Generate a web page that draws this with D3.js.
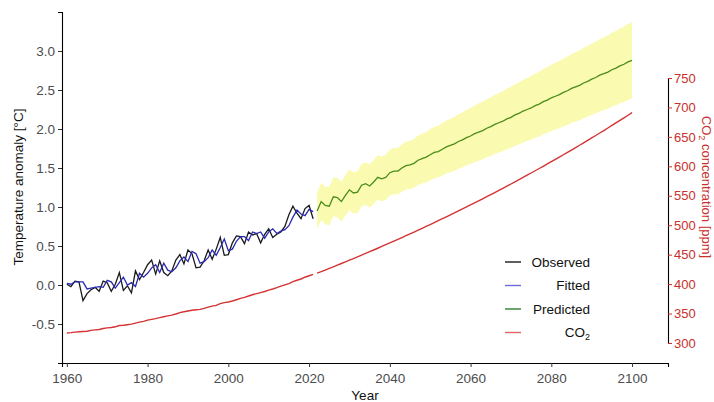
<!DOCTYPE html>
<html>
<head>
<meta charset="utf-8">
<title>Temperature anomaly and CO2</title>
<script src="https://d3js.org/d3.v7.min.js"></script>
<style>
  body { margin: 0; background: #fff; }
  svg { font-family: "Liberation Sans", Arial, sans-serif; }
  .tick text { font-size: 13.5px; }
</style>
</head>
<body>
<div id="chart"></div>
<script>
// observed years 1960-2021
const obsYears = d3.range(1960, 2022);
const observed = [0.01,-0.02,0.05,0.04,-0.20,-0.11,-0.06,-0.03,-0.08,0.05,
  0.03,-0.08,0.01,0.16,-0.07,-0.01,-0.10,0.18,0.07,0.16,
  0.26,0.32,0.14,0.31,0.16,0.12,0.18,0.32,0.39,0.27,
  0.45,0.40,0.22,0.23,0.31,0.45,0.33,0.46,0.61,0.38,
  0.39,0.54,0.63,0.62,0.53,0.68,0.64,0.66,0.54,0.65,
  0.72,0.61,0.65,0.68,0.75,0.90,1.01,0.92,0.85,0.98,
  1.02,0.85];
const fitted = [0.02,0.01,0.04,0.04,0.04,-0.05,-0.04,-0.03,-0.02,-0.03,
  0.06,0.04,-0.04,0.03,0.10,0.00,0.03,-0.02,0.15,0.10,
  0.15,0.22,0.26,0.16,0.28,0.19,0.17,0.22,0.31,0.36,
  0.30,0.43,0.40,0.28,0.30,0.35,0.45,0.38,0.48,0.59,
  0.44,0.46,0.56,0.62,0.62,0.57,0.68,0.66,0.68,0.60,
  0.68,0.72,0.66,0.69,0.71,0.76,0.87,0.96,0.91,0.89,
  0.97,0.94];
const co2Observed = [316.9,317.6,318.5,319.0,319.6,320.0,321.4,322.2,323.0,324.6,
  325.7,326.3,327.5,329.7,330.2,331.1,332.0,333.8,335.4,336.8,
  338.8,340.1,341.4,343.0,344.6,346.0,347.4,349.2,351.6,353.1,
  354.4,355.6,356.5,357.1,358.9,360.9,362.7,363.8,366.8,368.5,
  369.7,371.3,373.5,375.8,377.5,379.8,381.9,383.8,385.6,387.4,
  389.9,391.7,393.9,396.5,398.6,400.8,404.2,406.5,408.7,411.7,
  414.2,416.4];

// projection years 2022-2100
const predYears = d3.range(2022, 2101);
const predicted = [0.95,1.07,1.02,1.01,1.13,1.12,1.07,1.15,
  1.22,1.18,1.19,1.28,1.30,1.27,1.32,1.38,1.36,1.38,
  1.44,1.46,1.46,1.50,1.53,1.54,1.56,1.60,1.62,1.64,
  1.67,1.70,1.71,1.74,1.77,1.79,1.81,1.84,1.86,1.89,
  1.91,1.94,1.96,1.98,2.01,2.03,2.06,2.08,2.10,2.13,
  2.15,2.18,2.20,2.23,2.25,2.27,2.30,2.32,2.35,2.37,
  2.40,2.42,2.44,2.47,2.49,2.52,2.54,2.56,2.59,2.61,
  2.64,2.66,2.69,2.71,2.73,2.76,2.78,2.81,2.83,2.86,
  2.88];
const bandHalf = [0.235,0.238,0.242,0.245,0.248,0.251,0.255,0.258,
  0.261,0.264,0.268,0.271,0.274,0.277,0.281,0.284,0.287,0.291,
  0.294,0.297,0.300,0.304,0.307,0.310,0.313,0.317,0.320,0.323,
  0.327,0.330,0.333,0.336,0.340,0.343,0.346,0.349,0.353,0.356,
  0.359,0.362,0.366,0.369,0.372,0.375,0.379,0.382,0.385,0.389,
  0.392,0.395,0.398,0.402,0.405,0.408,0.411,0.415,0.418,0.421,
  0.425,0.428,0.431,0.434,0.438,0.441,0.444,0.447,0.451,0.454,
  0.457,0.460,0.464,0.467,0.470,0.473,0.477,0.480,0.483,0.487,
  0.490];
const co2Projected = [418.5,421.2,423.9,426.6,429.4,432.2,435.0,437.8,
  440.6,443.4,446.3,449.2,452.1,455.0,457.9,460.9,463.9,466.9,
  469.9,472.9,476.0,479.1,482.2,485.3,488.4,491.6,494.8,498.0,
  501.2,504.4,507.7,511.0,514.3,517.6,520.9,524.3,527.7,531.1,
  534.5,537.9,541.4,544.9,548.4,551.9,555.5,559.1,562.7,566.3,
  570.0,573.7,577.4,581.1,584.9,588.7,592.5,596.3,600.1,604.0,
  607.9,611.8,615.7,619.7,623.7,627.7,631.7,635.8,639.9,644.0,
  648.2,652.4,656.6,660.8,665.1,669.4,673.7,678.0,682.4,686.8,
  691.2];

const xTicks = [1960,1980,2000,2020,2040,2060,2080,2100];
const tempTicks = [-0.5,0,0.5,1.0,1.5,2.0,2.5,3.0];
const co2Ticks = [300,350,400,450,500,550,600,650,700,750];
const legendItems = [
  {label: "Observed", color: "#1a1a1a"},
  {label: "Fitted", color: "#6c6cdc"},
  {label: "Predicted", color: "#2e7d32"},
  {label: "CO2", color: "#e06666"}
];

const width = 714, height = 402;
const colObs = "#1a1a1a", colFit = "#2a2ab0", colPred = "#4a8c1c", colCO2 = "#d43333";
const colBand = "#fafab0", colAxisText = "#4d4d4d", colRed = "#c8302c";

const svg = d3.select("#chart").append("svg")
  .attr("width", width).attr("height", height);

const x = d3.scaleLinear().domain([1958.8, 2108.9]).range([62, 668]);
const y = d3.scaleLinear().domain([-1.0, 3.5]).range([363, 12]);
const yCO2 = d3.scaleLinear().domain([300, 750]).range([343, 78]);

const obs = obsYears.map((yr, i) => ({yr, t: observed[i], f: fitted[i], c: co2Observed[i]}));
const pred = predYears.map((yr, i) => ({yr, t: predicted[i], lo: predicted[i] - bandHalf[i], hi: predicted[i] + bandHalf[i], c: co2Projected[i]}));

// prediction band
svg.append("path")
  .datum(pred)
  .attr("fill", colBand)
  .attr("d", d3.area().x(d => x(d.yr)).y0(d => y(d.lo)).y1(d => y(d.hi)));

const lineT = key => d3.line().x(d => x(d.yr)).y(d => y(d[key]));
const lineC = d3.line().x(d => x(d.yr)).y(d => yCO2(d.c));

svg.append("path").datum(obs).attr("fill", "none").attr("stroke", colCO2).attr("stroke-width", 1.4).attr("d", lineC);
svg.append("path").datum(pred).attr("fill", "none").attr("stroke", colCO2).attr("stroke-width", 1.4).attr("d", lineC);
svg.append("path").datum(obs).attr("fill", "none").attr("stroke", colObs).attr("stroke-width", 1.3).attr("d", lineT("t"));
svg.append("path").datum(obs).attr("fill", "none").attr("stroke", colFit).attr("stroke-width", 1.3).attr("d", lineT("f"));
svg.append("path").datum(pred).attr("fill", "none").attr("stroke", colPred).attr("stroke-width", 1.3).attr("d", lineT("t"));

// axes
const gx = svg.append("g").attr("transform", "translate(0,363)")
  .call(d3.axisBottom(x).tickValues(xTicks).tickFormat(d3.format("d")).tickSize(4).tickPadding(6));
const gy = svg.append("g").attr("transform", "translate(62,0)")
  .call(d3.axisLeft(y).tickValues(tempTicks).tickFormat(d => d.toFixed(1)).tickSize(4).tickPadding(3));
const gr = svg.append("g").attr("transform", "translate(668,0)")
  .call(d3.axisRight(yCO2).tickValues(co2Ticks).tickSize(4).tickPadding(2));

[gx, gy, gr].forEach(g => {
  g.select(".domain").attr("stroke", "#000").attr("stroke-width", 1.1);
  g.selectAll(".tick line").attr("stroke", "#333");
  g.selectAll(".tick text").attr("fill", colAxisText).attr("font-family", "Liberation Sans, Arial, sans-serif");
});
gr.selectAll(".tick text").attr("fill", colRed).style("font-size", "13px");
gr.selectAll(".tick line").attr("stroke", colRed);

// axis titles
svg.append("text")
  .attr("transform", "translate(23,187) rotate(-90)")
  .attr("text-anchor", "middle").attr("font-size", 13.5).attr("fill", "#111")
  .text("Temperature anomaly [°C]");

svg.append("text")
  .attr("x", 365).attr("y", 400)
  .attr("text-anchor", "middle").attr("font-size", 13.5).attr("fill", "#111")
  .text("Year");

const rt = svg.append("text")
  .attr("transform", "translate(702,187) rotate(90)")
  .attr("text-anchor", "middle").attr("font-size", 13).attr("fill", colRed);
rt.append("tspan").text("CO");
rt.append("tspan").attr("font-size", 9).attr("dy", 3).text("2");
rt.append("tspan").attr("dy", -3).text(" concentration [ppm]");

// legend
const legend = svg.append("g");
legendItems.forEach((item, i) => {
  const ly = 262 + i * 23.5;
  legend.append("line")
    .attr("x1", 505).attr("x2", 521).attr("y1", ly).attr("y2", ly)
    .attr("stroke", item.color).attr("stroke-width", 1.4);
  const t = legend.append("text")
    .attr("x", 590).attr("y", ly + 4.5)
    .attr("text-anchor", "end").attr("font-size", 13.5).attr("fill", "#111");
  if (item.label === "CO2") {
    t.append("tspan").text("CO");
    t.append("tspan").attr("font-size", 9).attr("dy", 3).text("2");
  } else {
    t.text(item.label);
  }
});
</script>
</body>
</html>
